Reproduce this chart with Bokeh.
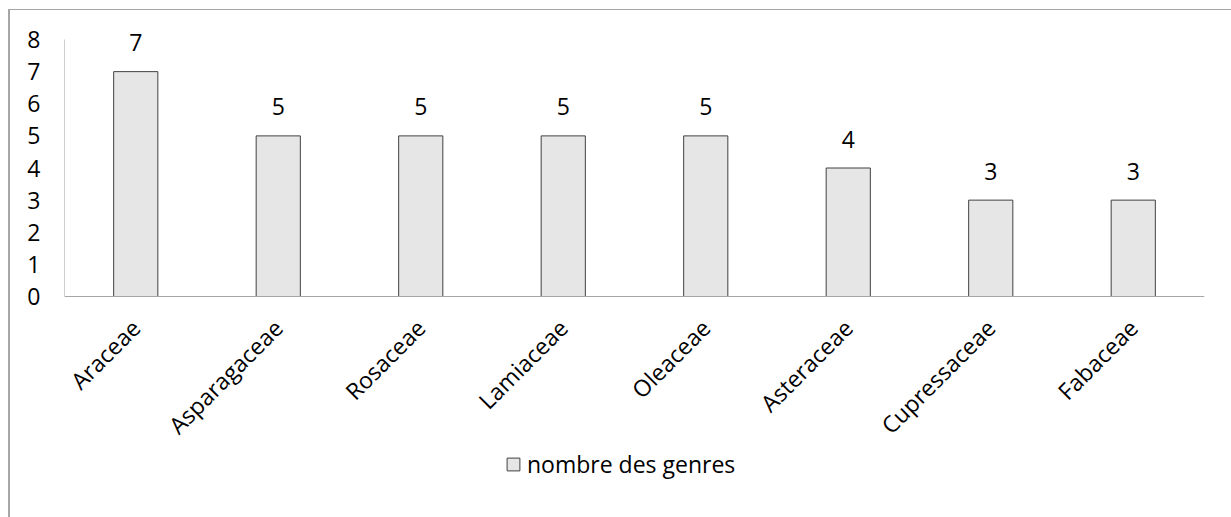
from math import pi

from bokeh.core.properties import value
from bokeh.embed import file_html
from bokeh.models import (ColumnDataSource, FactorRange, FixedTicker, Legend,
                          LegendItem, Range1d)
from bokeh.plotting import figure
from bokeh.resources import INLINE

# Number of genera per plant family
families = ["Araceae", "Asparagaceae", "Rosaceae", "Lamiaceae",
            "Oleaceae", "Asteraceae", "Cupressaceae", "Fabaceae"]
genera = [7, 5, 5, 5, 5, 4, 3, 3]
y_ticks = [0, 1, 2, 3, 4, 5, 6, 7, 8]
series_name = "nombre des genres"

FONT = "Open Sans"
SIZE = "23px"

# The frame covers the whole chart area so that the legend sits inside it;
# the value axis itself spans 0..8 over 257 px.
AXIS_PX = 257
ABOVE_PX = 276       # frame top to the zero line
BELOW_PX = 221       # zero line to the frame bottom
px_per_unit = AXIS_PX / 8
y_top = ABOVE_PX / px_per_unit
y_bottom = -BELOW_PX / px_per_unit

src = ColumnDataSource(dict(family=families, n=genera,
                            lbl=[str(v) for v in genera]))

p = figure(x_range=FactorRange(*families, range_padding=0),
           y_range=Range1d(y_bottom, y_top),
           width=1221, height=507,
           min_border_left=54, min_border_right=27,
           min_border_top=10, min_border_bottom=0,
           output_backend="svg", toolbar_location=None)
p.frame_width = 1140
p.frame_height = ABOVE_PX + BELOW_PX

bars = p.vbar(x="family", top="n", bottom=0, width=0.31, source=src,
              fill_color="#e6e6e6", line_color="#404040", line_width=1)

p.text(x="family", y="n", text="lbl", source=src,
       text_align="center", text_baseline="alphabetic", y_offset=-29,
       text_font=value(FONT), text_font_size=SIZE, text_color="black")

# axes
p.xgrid.visible = False
p.ygrid.visible = False
p.outline_line_color = None

p.xaxis.fixed_location = 0
p.xaxis.major_label_orientation = pi / 4
p.xaxis.major_tick_line_color = None
p.xaxis.minor_tick_line_color = None
p.xaxis.major_tick_out = 0
p.xaxis.major_tick_in = 0
p.xaxis.axis_line_color = "#a6a6a6"
p.xaxis.major_label_standoff = 27
p.xaxis.major_label_text_font = FONT
p.xaxis.major_label_text_font_size = SIZE
p.xaxis.major_label_text_color = "black"

p.yaxis.ticker = FixedTicker(ticks=y_ticks)
p.yaxis.bounds = (0, 8)
p.yaxis.major_tick_line_color = None
p.yaxis.minor_tick_line_color = None
p.yaxis.major_tick_out = 0
p.yaxis.major_tick_in = 0
p.yaxis.axis_line_color = "#cfcfcf"
p.yaxis.major_label_standoff = 24
p.yaxis.major_label_text_font = FONT
p.yaxis.major_label_text_font_size = SIZE
p.yaxis.major_label_text_color = "black"

legend = Legend(items=[LegendItem(label=series_name, renderers=[bars])],
                location=(441, 37), orientation="horizontal",
                padding=0, margin=0, spacing=0,
                glyph_width=16, glyph_height=16, label_standoff=6,
                border_line_color=None, background_fill_alpha=0,
                label_text_font=FONT, label_text_font_size=SIZE,
                label_text_color="black")
p.add_layout(legend)

# chart-area border
p.margin = (9, 0, 0, 8)
p.styles = {"border-left": "2px solid #a6a6a6",
            "border-top": "1px solid #a6a6a6"}

open("out.html", "w").write(file_html(p, INLINE))
